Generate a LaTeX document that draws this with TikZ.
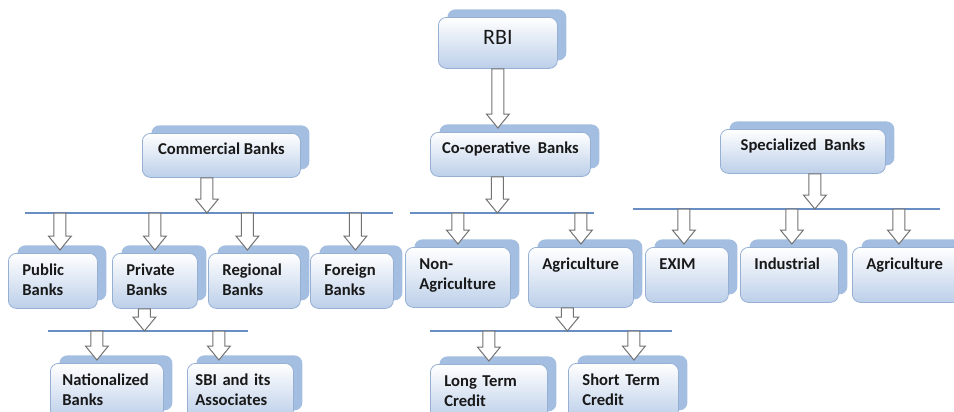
\documentclass[tikz,border=0pt]{standalone}
\usepackage{fontspec}
\setmainfont{Carlito}
\usetikzlibrary{shadows,calc}
\definecolor{backblue}{RGB}{163,190,224}
\definecolor{frontblue}{RGB}{188,207,233}
\definecolor{edgeblue}{RGB}{150,176,212}
\definecolor{busblue}{RGB}{104,142,196}
\tikzset{
  box/.style={rounded corners=4pt,draw=edgeblue,line width=0.4pt,
    top color=white,bottom color=frontblue,anchor=north west,
    general shadow={fill=backblue,shadow xshift=4.5pt,shadow yshift=4pt},
    font=\fontsize{8.3}{10}\selectfont\bfseries,text=black!90},
  topbox/.style={box,align=center,inner sep=0pt,inner ysep=5pt,
    text height=5.5pt,text depth=6.5pt},
  rootbox/.style={topbox,font=\fontsize{11}{13}\selectfont,
    text height=8.7pt,text depth=6.8pt},
  leaf/.style={box,align=left,inner xsep=7pt,inner ysep=5pt,
    text height=6pt,text depth=11.5pt},
  bus/.style={draw=busblue,line width=0.6pt},
  blockarr/.style={draw=black!55,fill=white,line width=0.5pt,line join=miter},
}
% hollow block arrow, shaft from #1 down to a tip at the height of #2
\newcommand\blockarrow[2]{%
  \draw[blockarr] let \p1=#1, \p2=#2 in
    (\x1-3pt,\y1) -- (\x1-3pt,\y2+7pt) -- (\x1-5.75pt,\y2+7pt) -- (\x1,\y2)
    -- (\x1+5.75pt,\y2+7pt) -- (\x1+3pt,\y2+7pt) -- (\x1+3pt,\y1) -- cycle;}

\begin{document}
\begin{tikzpicture}[x=0.5pt,y=-0.5pt]
  \useasboundingbox (0,0) rectangle (954,412);

  % bus lines
  \coordinate (comw) at (25,213);   \coordinate (come) at (393,213);
  \coordinate (coopw) at (410,213); \coordinate (coope) at (594,213);
  \coordinate (specw) at (633,209); \coordinate (spece) at (940,209);
  \coordinate (priw) at (48,331);   \coordinate (prie) at (248,331);
  \coordinate (agriw) at (430,331); \coordinate (agrie) at (672,331);
  \foreach \b in {com,coop,spec,pri,agri}
    \draw[bus] (\b w) -- (\b e);

  % top levels
  \node[rootbox,minimum width=59.5pt] (rbi) at (438,17) {RBI};
  \node[topbox,minimum width=79pt] (com) at (142,133) {Commercial Banks};
  \node[topbox,minimum width=80pt] (coop) at (430,132) {Co-operative\ \ Banks};
  \node[topbox,minimum width=82.5pt] (spec) at (720,129) {Specialized\ \ Banks};

  % commercial banks
  \node[leaf,text width=30.5pt] (pub) at (8,253) {Public\\Banks};
  \node[leaf,text width=28.5pt] (pri) at (112,253) {Private\\Banks};
  \node[leaf,text width=32pt] (reg) at (208,253) {Regional\\Banks};
  \node[leaf,text width=27.5pt] (fgn) at (310,253) {Foreign\\Banks};
  \node[leaf,inner xsep=6pt,text width=44.5pt] (nat) at (50,363) {Nationalized\\Banks};
  \node[leaf,inner xsep=4pt,text width=45pt] (sbi) at (187,363) {SBI and its\\Associates};

  % co-operative banks
  \node[leaf,text width=38.5pt,text depth=14pt] (nonag) at (405,247) {Non-\\Agriculture};
  \node[leaf,text width=38.5pt,text depth=14pt] (agri) at (528,247) {Agriculture};
  \node[leaf,text width=44.5pt] (lt) at (430,364) {Long Term\\Credit};
  \node[leaf,text width=41pt] (st) at (568,363) {Short Term\\Credit};

  % specialized banks
  \node[leaf,text width=27.5pt] (exim) at (645,247) {EXIM};
  \node[leaf,text width=35pt] (ind) at (740,247) {Industrial};
  \node[leaf,text width=40pt] (spag) at (852,247) {Agriculture};

  % arrows down to the buses
  \blockarrow{(rbi.south)}{([yshift=2pt]coop.north)}
  \blockarrow{([xshift=-7.25pt]com.south)}{(comw)}
  \blockarrow{([xshift=-6.5pt]coop.south)}{(coopw)}
  \blockarrow{([xshift=6pt]spec.south)}{(specw)}
  \blockarrow{([xshift=-5.25pt]pri.south)}{(priw)}
  \blockarrow{([xshift=-6.75pt]agri.south)}{(agriw)}

  % arrows from the buses
  \foreach \nd/\dx in {pub/3.5pt,pri/0pt,reg/-3.5pt,fgn/1.75pt}
    {\blockarrow{($(\nd.north |- comw)+(\dx,0)$)}{([yshift=1.5pt]\nd.north)}}
  \foreach \nd/\dx in {nonag/0pt,agri/0pt}
    {\blockarrow{($(\nd.north |- coopw)+(\dx,0)$)}{([yshift=1.5pt]\nd.north)}}
  \foreach \nd/\dx in {exim/-1.5pt,ind/1.25pt,spag/-3.75pt}
    {\blockarrow{($(\nd.north |- specw)+(\dx,0)$)}{([yshift=1.5pt]\nd.north)}}
  \foreach \nd/\dx in {nat/-5pt,sbi/-10.75pt}
    {\blockarrow{($(\nd.north |- priw)+(\dx,0)$)}{([yshift=1.5pt]\nd.north)}}
  \foreach \nd/\dx in {lt/0pt,st/5.25pt}
    {\blockarrow{($(\nd.north |- agriw)+(\dx,0)$)}{([yshift=1.5pt]\nd.north)}}
\end{tikzpicture}
\end{document}
